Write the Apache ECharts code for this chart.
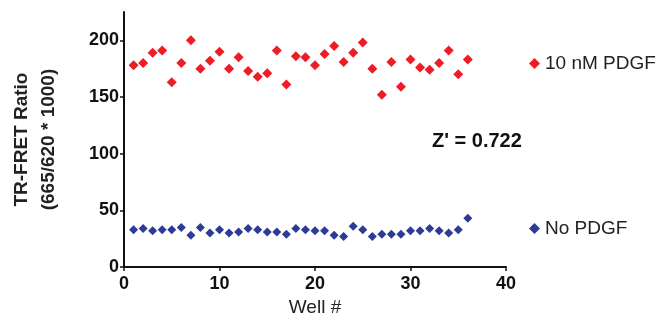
<!DOCTYPE html>
<html>
<head>
<meta charset="utf-8">
<script src="https://cdn.jsdelivr.net/npm/echarts@6/dist/echarts.min.js"></script>
<style>
  html, body { margin: 0; padding: 0; background: #fff; }
  #chart { width: 665px; height: 322px; }
</style>
</head>
<body>
<div id="chart"></div>
<script>
// well numbers 1..36
var wells = [1, 2, 3, 4, 5, 6, 7, 8, 9, 10, 11, 12, 13, 14, 15, 16, 17, 18,
  19, 20, 21, 22, 23, 24, 25, 26, 27, 28, 29, 30, 31, 32, 33, 34, 35, 36];
var pdgf10 = [178, 180, 189, 191, 163, 180, 200, 175, 182, 190, 175, 185,
  173, 168, 171, 191, 161, 186, 185, 178, 188, 195, 181, 189, 198, 175,
  152, 181, 159, 183, 176, 174, 180, 191, 170, 183];
var noPdgf = [33, 34, 32, 33, 33, 35, 28, 35, 30, 33, 30, 31, 34, 33, 31,
  31, 29, 34, 33, 32, 32, 28, 27, 36, 33, 27, 29, 29, 29, 32, 32, 34, 32,
  30, 33, 43];
var yTicks = [0, 50, 100, 150, 200];
var xTicks = [0, 10, 20, 30, 40];

function pairs(vals) {
  return wells.map(function (w, i) { return [w, vals[i]]; });
}

var font = 'Liberation Sans';
var chart = echarts.init(document.getElementById('chart'));
var option = {
  animation: false,
  grid: { left: 120, top: 12, right: 159, bottom: 53 },
  legend: [{
    data: ['10 nM PDGF'],
    left: 524, top: 49,
    itemWidth: 11, itemHeight: 11, itemGap: 6,
    textStyle: { fontFamily: font, fontSize: 19, color: '#222' }
  }, {
    data: ['No PDGF'],
    left: 524, top: 214,
    itemWidth: 11, itemHeight: 11,
    textStyle: { fontFamily: font, fontSize: 19, color: '#222' }
  }],
  graphic: [{
    type: 'text', left: 432, top: 131,
    style: { text: "Z' = 0.722", font: 'bold 20px "Liberation Sans"', fill: '#111' }
  }],
  xAxis: {
    type: 'value', min: 0, max: 40, interval: 10,
    name: 'Well #', nameLocation: 'middle', nameGap: 29,
    nameTextStyle: { fontFamily: font, fontSize: 19, color: '#222' },
    splitLine: { show: false },
    axisLine: { lineStyle: { color: '#111', width: 2 } },
    axisTick: { length: 4, lineStyle: { color: '#111', width: 1.5 }, customValues: xTicks },
    axisLabel: { customValues: xTicks, fontFamily: font, fontWeight: 'bold', fontSize: 18, color: '#111', margin: 8 }
  },
  yAxis: {
    type: 'value', min: 0, max: 225,
    name: 'TR-FRET Ratio\n(665/620 * 1000)', nameLocation: 'middle', nameGap: 62,
    nameTextStyle: { fontFamily: font, fontWeight: 'bold', fontSize: 19, color: '#222', lineHeight: 27 },
    splitLine: { show: false },
    axisLine: { show: true, lineStyle: { color: '#111', width: 2 } },
    axisTick: { show: true, length: 4, lineStyle: { color: '#111', width: 1.5 }, customValues: yTicks },
    axisLabel: { customValues: yTicks, fontFamily: font, fontWeight: 'bold', fontSize: 18, color: '#111', margin: 5 }
  },
  series: [{
    name: '10 nM PDGF', type: 'scatter', symbol: 'diamond', symbolSize: 10,
    itemStyle: { color: '#ee1c25', opacity: 1 },
    data: pairs(pdgf10)
  }, {
    name: 'No PDGF', type: 'scatter', symbol: 'diamond', symbolSize: 9,
    itemStyle: { color: '#2b3b96', opacity: 1 },
    data: pairs(noPdgf)
  }]
};
chart.setOption(option);
</script>
</body>
</html>
